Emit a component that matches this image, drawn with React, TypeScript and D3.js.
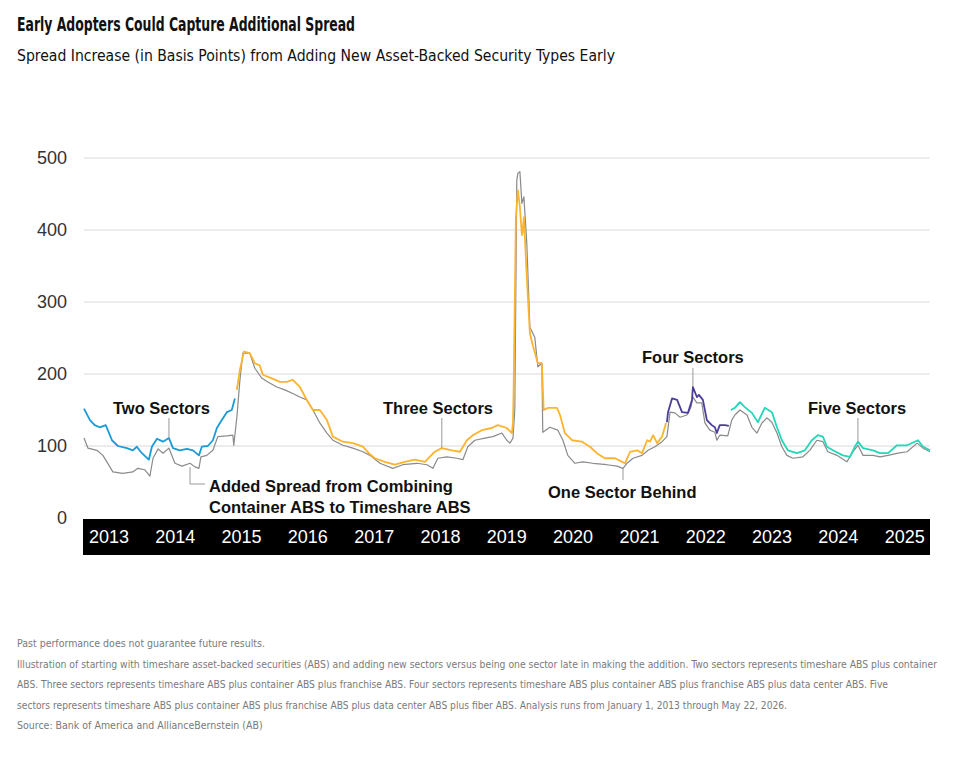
import React from "react";
import * as d3 from "d3";

type Point = [string, number];

// spread series, basis points
const oneSectorBehind: Point[] = [
  ["2013-01-01", 111], ["2013-01-23", 97], ["2013-03-13", 94], ["2013-04-15", 87],
  ["2013-05-07", 78], ["2013-06-09", 64], ["2013-08-03", 62], ["2013-09-27", 64],
  ["2013-10-24", 69], ["2013-12-02", 67], ["2013-12-30", 58], ["2014-01-16", 83],
  ["2014-02-13", 96], ["2014-03-12", 90], ["2014-04-14", 97], ["2014-05-17", 76],
  ["2014-06-25", 72], ["2014-08-08", 76], ["2014-09-04", 71], ["2014-09-26", 69],
  ["2014-10-07", 85], ["2014-11-08", 87], ["2014-12-12", 94], ["2015-01-08", 113],
  ["2015-02-27", 114], ["2015-04-01", 115], ["2015-04-06", 101], ["2015-04-23", 140],
  ["2015-05-10", 192], ["2015-05-26", 229], ["2015-07-03", 229], ["2015-07-31", 208],
  ["2015-09-08", 194], ["2015-10-11", 189], ["2015-11-29", 182], ["2016-01-12", 178],
  ["2016-02-25", 173], ["2016-04-04", 168], ["2016-05-12", 164], ["2016-06-15", 150],
  ["2016-07-23", 132], ["2016-08-31", 118], ["2016-10-03", 108], ["2016-11-27", 101],
  ["2017-01-21", 97], ["2017-03-17", 92], ["2017-04-25", 87], ["2017-06-19", 76],
  ["2017-08-29", 69], ["2017-10-23", 74], ["2018-01-09", 76], ["2018-03-05", 74],
  ["2018-04-07", 69], ["2018-05-04", 83], ["2018-06-23", 85], ["2018-08-17", 83],
  ["2018-09-19", 81], ["2018-10-16", 99], ["2018-11-24", 108], ["2019-01-18", 111],
  ["2019-03-03", 113], ["2019-04-22", 118], ["2019-05-19", 108], ["2019-06-05", 104],
  ["2019-06-22", 111], ["2019-07-02", 150], ["2019-07-13", 469], ["2019-07-19", 479],
  ["2019-07-30", 481], ["2019-08-10", 437], ["2019-08-21", 446], ["2019-09-06", 382],
  ["2019-09-23", 265], ["2019-10-20", 251], ["2019-11-06", 210], ["2019-11-28", 215],
  ["2019-12-03", 119], ["2020-01-11", 126], ["2020-02-24", 122], ["2020-03-23", 108],
  ["2020-04-19", 87], ["2020-05-28", 76], ["2020-07-11", 78], ["2020-09-04", 76],
  ["2020-11-20", 74], ["2021-01-15", 72], ["2021-02-17", 69], ["2021-03-11", 76],
  ["2021-04-13", 83], ["2021-06-02", 87], ["2021-07-05", 94], ["2021-08-12", 99],
  ["2021-09-20", 106], ["2021-10-17", 113], ["2021-11-03", 147], ["2021-11-30", 146],
  ["2021-12-28", 140], ["2022-02-04", 143], ["2022-02-26", 154], ["2022-03-09", 168],
  ["2022-03-31", 160], ["2022-04-27", 160], ["2022-05-14", 132], ["2022-06-10", 122],
  ["2022-07-08", 119], ["2022-07-19", 108], ["2022-08-04", 115], ["2022-09-17", 114],
  ["2022-10-09", 136], ["2022-10-26", 143], ["2022-11-23", 150], ["2023-01-01", 143],
  ["2023-01-28", 126], ["2023-02-25", 118], ["2023-03-24", 132], ["2023-04-21", 139],
  ["2023-05-18", 133], ["2023-06-15", 118], ["2023-07-12", 99], ["2023-08-09", 87],
  ["2023-09-11", 83], ["2023-11-05", 85], ["2023-12-13", 94], ["2024-01-21", 108],
  ["2024-02-23", 106], ["2024-03-21", 92], ["2024-05-10", 87], ["2024-07-04", 78],
  ["2024-08-07", 92], ["2024-09-03", 101], ["2024-10-01", 87], ["2024-11-25", 87],
  ["2025-01-03", 85], ["2025-02-16", 87], ["2025-04-12", 90], ["2025-06-01", 92],
  ["2025-07-26", 104], ["2025-08-28", 97], ["2025-10-05", 92],
];

const twoSectors: Point[] = [
  ["2013-01-01", 152], ["2013-02-03", 136], ["2013-03-01", 129], ["2013-03-29", 126],
  ["2013-05-01", 129], ["2013-06-04", 108], ["2013-07-07", 100], ["2013-08-25", 97],
  ["2013-09-27", 94], ["2013-10-19", 99], ["2013-11-16", 90], ["2013-12-24", 81],
  ["2014-01-10", 99], ["2014-02-07", 110], ["2014-03-12", 106], ["2014-04-14", 111],
  ["2014-05-06", 97], ["2014-06-13", 94], ["2014-07-22", 96], ["2014-08-24", 94],
  ["2014-09-26", 87], ["2014-10-12", 99], ["2014-11-14", 100], ["2014-12-12", 108],
  ["2015-01-03", 125], ["2015-01-30", 136], ["2015-02-27", 147], ["2015-03-26", 150],
  ["2015-04-12", 166],
];

const threeSectors: Point[] = [
  ["2015-04-23", 178], ["2015-05-10", 206], ["2015-06-01", 231], ["2015-07-03", 229],
  ["2015-07-31", 215], ["2015-08-27", 212], ["2015-09-13", 199], ["2015-11-01", 194],
  ["2015-12-16", 189], ["2016-01-23", 189], ["2016-02-25", 192], ["2016-04-04", 182],
  ["2016-05-12", 164], ["2016-06-15", 150], ["2016-07-23", 150], ["2016-08-31", 136],
  ["2016-10-03", 113], ["2016-11-27", 106], ["2017-01-21", 104], ["2017-03-17", 99],
  ["2017-04-19", 90], ["2017-05-22", 83], ["2017-07-16", 78], ["2017-09-09", 74],
  ["2017-11-03", 78], ["2017-12-28", 81], ["2018-02-22", 78], ["2018-03-20", 85],
  ["2018-04-17", 92], ["2018-05-26", 97], ["2018-07-20", 94], ["2018-09-03", 92],
  ["2018-10-11", 108], ["2018-11-13", 115], ["2019-01-01", 122], ["2019-02-25", 125],
  ["2019-03-30", 129], ["2019-05-19", 125], ["2019-06-16", 118], ["2019-06-22", 132],
  ["2019-06-26", 187], ["2019-07-08", 418], ["2019-07-19", 455], ["2019-07-30", 432],
  ["2019-08-10", 393], ["2019-08-14", 397], ["2019-08-21", 418], ["2019-09-06", 335],
  ["2019-09-23", 257], ["2019-10-09", 240], ["2019-11-06", 215], ["2019-11-28", 215],
  ["2019-12-08", 150], ["2020-01-01", 153], ["2020-02-19", 153], ["2020-03-07", 143],
  ["2020-04-03", 118], ["2020-05-12", 108], ["2020-07-06", 106], ["2020-08-19", 99],
  ["2020-09-26", 90], ["2020-11-09", 83], ["2021-01-04", 83], ["2021-02-12", 78],
  ["2021-02-28", 76], ["2021-03-28", 92], ["2021-05-06", 94], ["2021-06-02", 90],
  ["2021-06-30", 108], ["2021-07-16", 106], ["2021-08-02", 115], ["2021-08-24", 104],
  ["2021-09-20", 113], ["2021-10-12", 132],
];

const fourSectors: Point[] = [
  ["2021-10-17", 133], ["2021-10-23", 147], ["2021-11-14", 166], ["2021-12-12", 164],
  ["2022-01-08", 147], ["2022-02-10", 146], ["2022-03-04", 164], ["2022-03-09", 182],
  ["2022-03-31", 168], ["2022-04-11", 171], ["2022-05-03", 164], ["2022-05-25", 136],
  ["2022-06-21", 129], ["2022-07-08", 126], ["2022-07-19", 118], ["2022-08-04", 129],
  ["2022-09-01", 129], ["2022-09-23", 128],
];

const fiveSectors: Point[] = [
  ["2022-10-04", 150], ["2022-10-26", 153], ["2022-11-23", 161], ["2022-12-20", 154],
  ["2023-01-28", 146], ["2023-03-02", 133], ["2023-04-09", 153], ["2023-05-18", 147],
  ["2023-06-15", 126], ["2023-07-12", 108], ["2023-08-14", 94], ["2023-10-03", 90],
  ["2023-11-16", 94], ["2023-12-24", 108], ["2024-01-26", 115], ["2024-02-23", 113],
  ["2024-03-16", 99], ["2024-04-18", 94], ["2024-06-12", 87], ["2024-07-21", 85],
  ["2024-08-17", 99], ["2024-09-03", 106], ["2024-10-01", 97], ["2024-11-25", 94],
  ["2025-01-03", 90], ["2025-02-16", 90], ["2025-04-06", 101], ["2025-06-01", 101],
  ["2025-07-31", 108], ["2025-08-28", 99], ["2025-10-05", 94],
];

const yTicks = [0, 100, 200, 300, 400, 500];
const years = [2013, 2014, 2015, 2016, 2017, 2018, 2019, 2020, 2021, 2022, 2023, 2024, 2025];

const footnotes = [
  "Past performance does not guarantee future results.",
  "Illustration of starting with timeshare asset-backed securities (ABS) and adding new sectors versus being one sector late in making the addition. Two sectors represents timeshare ABS plus container",
  "ABS. Three sectors represents timeshare ABS plus container ABS plus franchise ABS. Four sectors represents timeshare ABS plus container ABS plus franchise ABS plus data center ABS. Five",
  "sectors represents timeshare ABS plus container ABS plus franchise ABS plus data center ABS plus fiber ABS. Analysis runs from January 1, 2013 through May 22, 2026.",
  "Source: Bank of America and AllianceBernstein (AB)",
];
const footnoteWidths = [0, 920, 871, 770, 0];

const W = 958;
const H = 759;
const left = 84;
const right = 930;
const top = 158;
const bottom = 518;

const parse = d3.timeParse("%Y-%m-%d");

const x = d3
  .scaleTime()
  .domain([parse("2013-01-01")!, parse("2025-10-05")!])
  .range([left, right]);
const y = d3.scaleLinear().domain([0, 500]).range([bottom, top]);

const line = d3
  .line<Point>()
  .x((d) => x(parse(d[0])!))
  .y((d) => y(d[1]));

const xAt = (s: string) => x(parse(s)!);

const bold = "'Liberation Sans', Arial, sans-serif";
const narrow = "'Liberation Sans Narrow', 'DejaVu Sans Condensed', sans-serif";

const Label = ({ tx, ty, lines }: { tx: number; ty: number; lines: string[] }) => (
  <text x={tx} y={ty} fontFamily={bold} fontWeight={700} fontSize={16.5} fill="#111">
    {lines.map((l, i) => (
      <tspan key={i} x={tx} dy={i === 0 ? 0 : 21}>
        {l}
      </tspan>
    ))}
  </text>
);

export default function App() {
  return (
    <svg width={W} height={H} style={{ display: "block", margin: "-8px" }}>
      <rect width={W} height={H} fill="#fff" />
      <text x={17} y={31} fontFamily={narrow} fontWeight={700} fontSize={20} fill="#111" textLength={338} lengthAdjust="spacingAndGlyphs">
        Early Adopters Could Capture Additional Spread
      </text>
      <text x={17} y={61} fontFamily={narrow} fontSize={16} fill="#111" textLength={598} lengthAdjust="spacingAndGlyphs">
        Spread Increase (in Basis Points) from Adding New Asset-Backed Security Types Early
      </text>

      {yTicks.map((t) => (
        <g key={t}>
          {t > 0 && <line x1={left} x2={right} y1={y(t)} y2={y(t)} stroke="#d9d9d9" strokeWidth={1} />}
          <text x={67} y={y(t) + 6} textAnchor="end" fontFamily={bold} fontSize={18} fill="#333">
            {t}
          </text>
        </g>
      ))}

      <rect x={83} y={519} width={847} height={36} fill="#000" />
      {years.map((yr) => (
        <text key={yr} x={x(new Date(yr, 0, 1)) + 5} y={543} fontFamily={bold} fontSize={18} fill="#fff">
          {yr}
        </text>
      ))}

      <path d={line(oneSectorBehind)!} fill="none" stroke="#8a8a8a" strokeWidth={1.2} strokeLinejoin="round" />
      <path d={line(twoSectors)!} fill="none" stroke="#1a9ad6" strokeWidth={1.8} strokeLinejoin="round" />
      <path d={line(threeSectors)!} fill="none" stroke="#fcb42e" strokeWidth={1.8} strokeLinejoin="round" />
      <path d={line(fourSectors)!} fill="none" stroke="#4b3e9b" strokeWidth={1.8} strokeLinejoin="round" />
      <path d={line(fiveSectors)!} fill="none" stroke="#22d8b8" strokeWidth={1.8} strokeLinejoin="round" />

      {/* annotation leaders */}
      <g stroke="#999" strokeWidth={1} fill="none">
        <line x1={xAt("2014-04-14")} x2={xAt("2014-04-14")} y1={418} y2={y(111)} />
        <polyline points={`${xAt("2014-08-08")},${y(76) + 4} ${xAt("2014-08-08")},484 205,484`} />
        <line x1={xAt("2018-05-26")} x2={xAt("2018-05-26")} y1={418} y2={y(97)} />
        <line x1={xAt("2021-02-17")} x2={xAt("2021-02-17")} y1={y(69)} y2={480} />
        <line x1={xAt("2022-03-09")} x2={xAt("2022-03-09")} y1={368} y2={y(182)} />
        <line x1={xAt("2024-09-03")} x2={xAt("2024-09-03")} y1={418} y2={y(106)} />
      </g>

      <Label tx={113} ty={414} lines={["Two Sectors"]} />
      <Label tx={209} ty={492} lines={["Added Spread from Combining", "Container ABS to Timeshare ABS"]} />
      <Label tx={383} ty={414} lines={["Three Sectors"]} />
      <Label tx={548} ty={498} lines={["One Sector Behind"]} />
      <Label tx={642} ty={363} lines={["Four Sectors"]} />
      <Label tx={808} ty={414} lines={["Five Sectors"]} />

      {footnotes.map((f, i) => (
        <text
          key={i}
          x={17}
          y={647 + i * 20.5}
          fontFamily={narrow}
          fontSize={10.5}
          fill="#7a7a7a"
          {...(footnoteWidths[i] ? { textLength: footnoteWidths[i], lengthAdjust: "spacingAndGlyphs" } : {})}
        >
          {f}
        </text>
      ))}
    </svg>
  );
}
